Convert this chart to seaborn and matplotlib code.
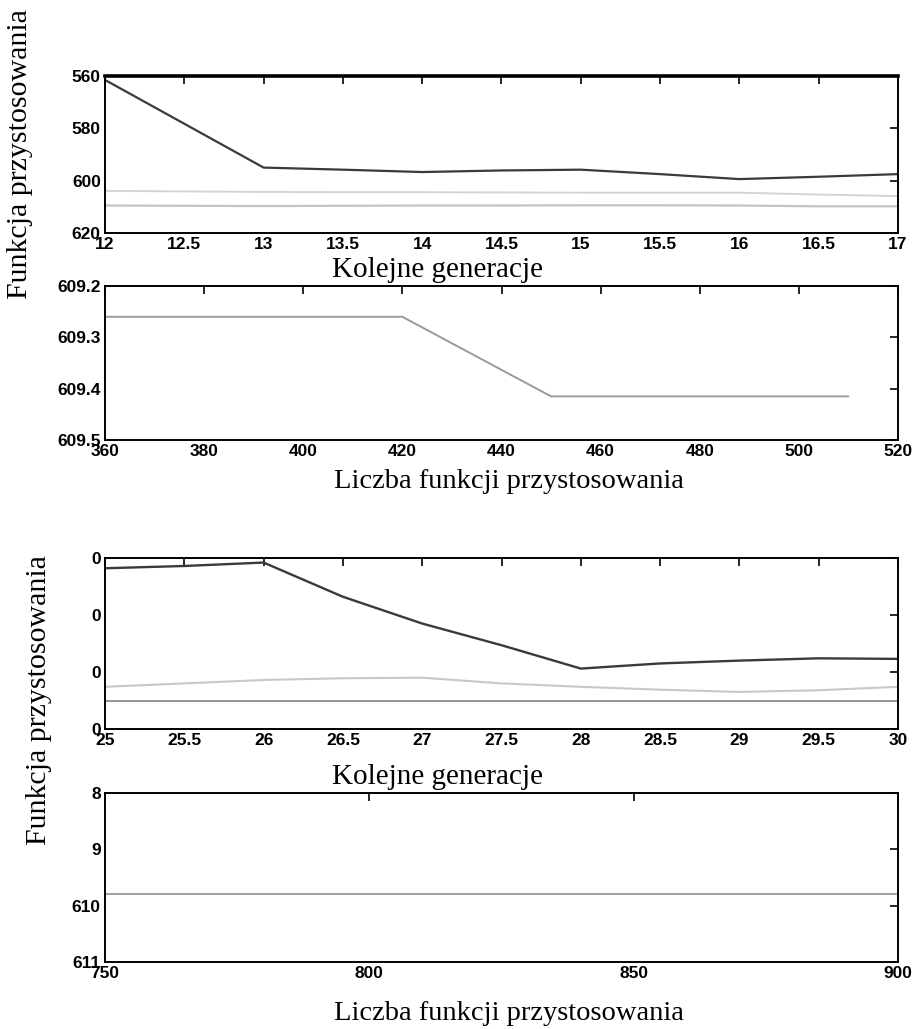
import matplotlib

matplotlib.use("Agg")
import matplotlib.pyplot as plt
import pandas as pd
import seaborn as sns

# panel 1: fitness vs generation (12..17)
gen_a = [12, 13, 13.5, 14, 14.5, 15, 15.5, 16, 16.5, 17]
best_a = [561.5, 595.0, 595.8, 596.7, 596.1, 595.8, 597.5, 599.4, 598.5, 597.5]
mean_a = [603.9, 604.3, 604.4, 604.4, 604.5, 604.6, 604.6, 604.6, 605.3, 605.9]
worst_a = [609.5, 609.7, 609.6, 609.5, 609.5, 609.4, 609.4, 609.5, 609.8, 609.8]

# panel 2: fitness vs number of evaluations
evals_a = [360, 420, 450, 510]
fit_a = [609.26, 609.26, 609.415, 609.415]

# panel 3: fitness vs generation (25..30), y-labels are clipped to "0"
gen_b = [25, 25.5, 26, 26.5, 27, 27.5, 28, 28.5, 29, 29.5, 30]
best_b = [0.18, 0.14, 0.08, 0.68, 1.15, 1.53, 1.94, 1.85, 1.80, 1.76, 1.77]
mean_b = [2.26, 2.20, 2.14, 2.11, 2.10, 2.20, 2.26, 2.31, 2.35, 2.32, 2.26]
worst_b = [2.51] * len(gen_b)
ticks_b = [0, 1, 2, 3]
ticklabels_b = ["0", "0", "0", "0"]

# panel 4
evals_b = [750, 900]
fit_b = [609.8, 609.8]
ticks_d = [608, 609, 610, 611]
ticklabels_d = ["8", "9", "610", "611"]

sns.set_style("white")
plt.rcParams["font.family"] = ["Liberation Sans Narrow", "Liberation Sans", "DejaVu Sans"]

W, H = 917, 1029
fig = plt.figure(figsize=(W / 100, H / 100), dpi=100)


def rect(l, t, r, b):
    return [l / W, 1 - b / H, (r - l) / W, (b - t) / H]


def style(ax):
    for s in ax.spines.values():
        s.set_visible(True)
        s.set_color("black")
        s.set_linewidth(1.4)
    ax.tick_params(direction="in", length=6, width=1.2, top=True, right=True,
                   labelsize=12.5, pad=3, colors="black")
    for lab in ax.get_xticklabels() + ax.get_yticklabels():
        lab.set_fontweight("bold")
    ax.set_xlabel("")
    ax.set_ylabel("")


serif = {"family": ["Liberation Serif", "DejaVu Serif"], "color": "black"}

# panel 1
ax1 = fig.add_axes(rect(105, 76, 898, 233))
d = pd.DataFrame({"x": gen_a, "best": best_a, "mean": mean_a, "worst": worst_a})
sns.lineplot(data=d, x="x", y="worst", ax=ax1, color="#c4c4c4", lw=1.6)
sns.lineplot(data=d, x="x", y="mean", ax=ax1, color="#d4d4d4", lw=1.4)
sns.lineplot(data=d, x="x", y="best", ax=ax1, color="#3a3a3a", lw=1.6)
ax1.set_xlim(12, 17)
ax1.set_ylim(620, 560)
ax1.set_xticks([12 + 0.5 * i for i in range(11)])
ax1.set_xticklabels(["12", "12.5", "13", "13.5", "14", "14.5", "15", "15.5", "16", "16.5", "17"])
ax1.set_yticks([560, 580, 600, 620])
style(ax1)
ax1.spines["top"].set_linewidth(2.6)

# panel 2
ax2 = fig.add_axes(rect(105, 286, 898, 440))
sns.lineplot(x=evals_a, y=fit_a, ax=ax2, color="#9a9a9a", lw=1.4)
ax2.set_xlim(360, 520)
ax2.set_ylim(609.5, 609.2)
ax2.set_xticks(range(360, 521, 20))
ax2.set_yticks([609.2, 609.3, 609.4, 609.5])
ax2.set_yticklabels(["609.2", "609.3", "609.4", "609.5"])
style(ax2)

# panel 3
ax3 = fig.add_axes(rect(105, 558, 898, 729))
d = pd.DataFrame({"x": gen_b, "best": best_b, "mean": mean_b, "worst": worst_b})
sns.lineplot(data=d, x="x", y="worst", ax=ax3, color="#8a8a8a", lw=1.3)
sns.lineplot(data=d, x="x", y="mean", ax=ax3, color="#c8c8c8", lw=1.5)
sns.lineplot(data=d, x="x", y="best", ax=ax3, color="#3a3a3a", lw=1.7)
ax3.set_xlim(25, 30)
ax3.set_ylim(3, 0)
ax3.set_xticks([25 + 0.5 * i for i in range(11)])
ax3.set_xticklabels(["25", "25.5", "26", "26.5", "27", "27.5", "28", "28.5", "29", "29.5", "30"])
ax3.set_yticks(ticks_b)
ax3.set_yticklabels(ticklabels_b)
style(ax3)

# panel 4
ax4 = fig.add_axes(rect(105, 793, 898, 962))
sns.lineplot(x=evals_b, y=fit_b, ax=ax4, color="#a0a0a0", lw=1.4)
ax4.set_xlim(750, 900)
ax4.set_ylim(611, 608)
ax4.set_xticks([750, 800, 850, 900])
ax4.set_yticks(ticks_d)
ax4.set_yticklabels(ticklabels_d)
style(ax4)

fig.text(438 / W, 1 - 270 / H, "Kolejne generacje", ha="center", va="center", fontsize=21, **serif)
fig.text(509 / W, 1 - 482 / H, "Liczba funkcji przystosowania", ha="center", va="center", fontsize=20.5, **serif)
fig.text(438 / W, 1 - 777 / H, "Kolejne generacje", ha="center", va="center", fontsize=21, **serif)
fig.text(509 / W, 1 - 1013 / H, "Liczba funkcji przystosowania", ha="center", va="center", fontsize=20.5, **serif)
fig.text(20 / W, 1 - 154 / H, "Funkcja przystosowania", rotation=90, ha="center", va="center", fontsize=21.5, **serif)
fig.text(39 / W, 1 - 700 / H, "Funkcja przystosowania", rotation=90, ha="center", va="center", fontsize=21.5, **serif)

fig.savefig("out.png", dpi=100)
